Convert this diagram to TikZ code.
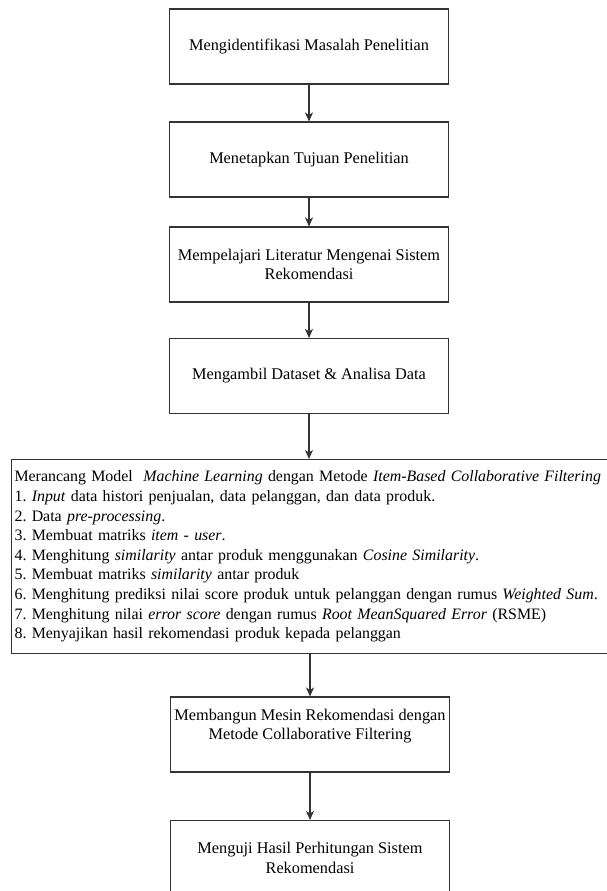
\documentclass[tikz,border=0pt]{standalone}
\usepackage{fontspec}
\setmainfont{Liberation Serif}
\usetikzlibrary{arrows.meta}
\frenchspacing
\begin{document}
\begin{tikzpicture}[x=1pt,y=-1pt,
  every node/.style={font=\fontsize{16.3}{19.6}\selectfont\frenchspacing, text=black},
  stepbox/.style={draw=black!80, line width=1.1pt, rectangle, minimum width=279pt, minimum height=75pt, inner sep=0pt, align=center},
  bigbox/.style={draw=black!80, line width=1.1pt, rectangle, anchor=north west, minimum height=194pt, inner xsep=3pt, inner ysep=0pt, text width=640pt, align=left, font=\fontsize{15.9}{19.6}\selectfont\frenchspacing},
  arr/.style={draw=black!80, line width=1.1pt, -{Stealth[length=9pt,width=8pt,inset=2.5pt]}}]
\useasboundingbox (0,0) rectangle (607,891);
\node[stepbox] (b1) at (309,46.5) {Mengidentifikasi Masalah Penelitian};
\node[stepbox] (b2) at (309,159.5) {Menetapkan Tujuan Penelitian};
\node[stepbox] (b3) at (309,264.5) {Mempelajari Literatur Mengenai Sistem\\Rekomendasi};
\node[stepbox] (b4) at (309,376) {Mengambil Dataset \& Analisa Data};
\node[bigbox] (b5) at (11,459) {Merancang Model~ \textit{Machine Learning} dengan Metode \textit{Item-Based Collaborative Filtering}\\
1. \textit{Input} data histori penjualan, data pelanggan, dan data produk.\\
2. Data \textit{pre-processing}.\\
3. Membuat matriks \textit{item - user}.\\
4. Menghitung \textit{similarity} antar produk menggunakan \textit{Cosine Similarity}.\\
5. Membuat matriks \textit{similarity} antar produk\\
6. Menghitung prediksi nilai score produk untuk pelanggan dengan rumus \textit{Weighted Sum}.\\
7. Menghitung nilai \textit{error score} dengan rumus \textit{Root MeanSquared Error} (RSME)\\
8. Menyajikan hasil rekomendasi produk kepada pelanggan};
\node[stepbox] (b6) at (310,734.5) {};
\node[align=center] (t6) at (310,726) {Membangun Mesin Rekomendasi dengan\\Metode Collaborative Filtering};
\node[stepbox] (b7) at (310,858) {Menguji Hasil Perhitungan Sistem\\Rekomendasi};
\draw[arr] (b1.south) -- (b2.north);
\draw[arr] (b2.south) -- (b3.north);
\draw[arr] (b3.south) -- (b4.north);
\draw[arr] (b4.south) -- (b4.south |- b5.north);
\draw[arr] (b6.north |- b5.south) -- (b6.north);
\draw[arr] (b6.south) -- (b7.north);
\end{tikzpicture}
\end{document}
